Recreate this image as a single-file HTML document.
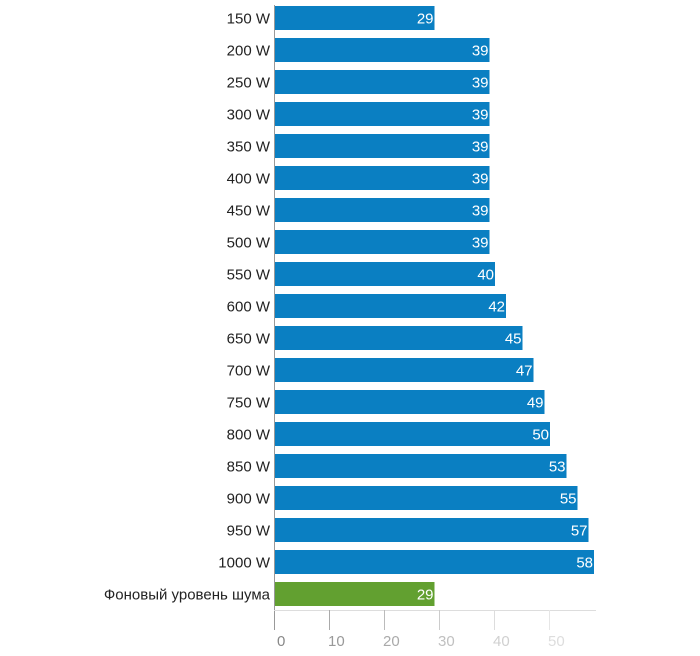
<!DOCTYPE html>
<html><head><meta charset="utf-8"><style>
body{margin:0;background:#fff}
text{font-family:"Liberation Sans",sans-serif;font-size:15px}
</style></head><body>
<svg width="700" height="651" xmlns="http://www.w3.org/2000/svg">
<g fill="#0a7fc2">
<rect x="275" y="6" width="159.5" height="24"/>
<rect x="275" y="38" width="214.5" height="24"/>
<rect x="275" y="70" width="214.5" height="24"/>
<rect x="275" y="102" width="214.5" height="24"/>
<rect x="275" y="134" width="214.5" height="24"/>
<rect x="275" y="166" width="214.5" height="24"/>
<rect x="275" y="198" width="214.5" height="24"/>
<rect x="275" y="230" width="214.5" height="24"/>
<rect x="275" y="262" width="220" height="24"/>
<rect x="275" y="294" width="231" height="24"/>
<rect x="275" y="326" width="247.5" height="24"/>
<rect x="275" y="358" width="258.5" height="24"/>
<rect x="275" y="390" width="269.5" height="24"/>
<rect x="275" y="422" width="275" height="24"/>
<rect x="275" y="454" width="291.5" height="24"/>
<rect x="275" y="486" width="302.5" height="24"/>
<rect x="275" y="518" width="313.5" height="24"/>
<rect x="275" y="550" width="319" height="24"/>
</g>
<rect x="275" y="582" width="159.5" height="24" fill="#62a030"/>
<g text-anchor="end" fill="#222">
<text x="270" y="23.5">150 W</text>
<text x="270" y="55.5">200 W</text>
<text x="270" y="87.5">250 W</text>
<text x="270" y="119.5">300 W</text>
<text x="270" y="151.5">350 W</text>
<text x="270" y="183.5">400 W</text>
<text x="270" y="215.5">450 W</text>
<text x="270" y="247.5">500 W</text>
<text x="270" y="279.5">550 W</text>
<text x="270" y="311.5">600 W</text>
<text x="270" y="343.5">650 W</text>
<text x="270" y="375.5">700 W</text>
<text x="270" y="407.5">750 W</text>
<text x="270" y="439.5">800 W</text>
<text x="270" y="471.5">850 W</text>
<text x="270" y="503.5">900 W</text>
<text x="270" y="535.5">950 W</text>
<text x="270" y="567.5">1000 W</text>
<text x="270" y="599.5">Фоновый уровень шума</text>
</g>
<g text-anchor="end" fill="#fff">
<text x="433.5" y="23.5">29</text>
<text x="488.5" y="55.5">39</text>
<text x="488.5" y="87.5">39</text>
<text x="488.5" y="119.5">39</text>
<text x="488.5" y="151.5">39</text>
<text x="488.5" y="183.5">39</text>
<text x="488.5" y="215.5">39</text>
<text x="488.5" y="247.5">39</text>
<text x="494" y="279.5">40</text>
<text x="505" y="311.5">42</text>
<text x="521.5" y="343.5">45</text>
<text x="532.5" y="375.5">47</text>
<text x="543.5" y="407.5">49</text>
<text x="549" y="439.5">50</text>
<text x="565.5" y="471.5">53</text>
<text x="576.5" y="503.5">55</text>
<text x="587.5" y="535.5">57</text>
<text x="593" y="567.5">58</text>
<text x="433.5" y="599.5">29</text>
</g>
<line x1="274.5" y1="5" x2="274.5" y2="630" stroke="#999" stroke-width="1"/>
<line x1="274" y1="610.5" x2="596" y2="610.5" stroke="#ddd" stroke-width="1"/>
<g stroke-width="1">
<line x1="329.5" y1="610" x2="329.5" y2="630" stroke="#aaa"/>
<line x1="384.5" y1="610" x2="384.5" y2="630" stroke="#bbb"/>
<line x1="439.5" y1="610" x2="439.5" y2="630" stroke="#ccc"/>
<line x1="494.5" y1="610" x2="494.5" y2="630" stroke="#ddd"/>
<line x1="549.5" y1="610" x2="549.5" y2="630" stroke="#e6e6e6"/>
</g>
<g font-size="16">
<text x="277" y="646" fill="#888">0</text>
<text x="328" y="646" fill="#999">10</text>
<text x="383" y="646" fill="#aaa">20</text>
<text x="438" y="646" fill="#c0c0c0">30</text>
<text x="493" y="646" fill="#d0d0d0">40</text>
<text x="548" y="646" fill="#ddd">50</text>
</g>
</svg>
</body></html>
